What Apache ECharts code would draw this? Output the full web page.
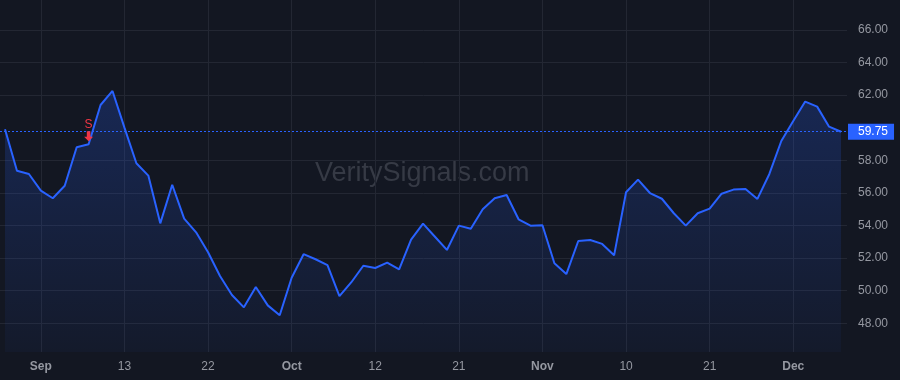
<!DOCTYPE html>
<html>
<head>
<meta charset="utf-8">
<script src="https://cdn.jsdelivr.net/npm/echarts@6/dist/echarts.min.js"></script>
<style>
html,body{margin:0;padding:0;background:#131722;}
#chart{width:900px;height:380px;}
</style>
</head>
<body>
<div id="chart"></div>
<script>
// Trading days (2022)
const dates = [
 '2022-08-29','2022-08-30','2022-08-31',
 '2022-09-01','2022-09-02','2022-09-06','2022-09-07','2022-09-08','2022-09-09','2022-09-12','2022-09-13','2022-09-14','2022-09-15','2022-09-16','2022-09-19','2022-09-20','2022-09-21','2022-09-22','2022-09-23','2022-09-26','2022-09-27','2022-09-28','2022-09-29','2022-09-30',
 '2022-10-03','2022-10-04','2022-10-05','2022-10-06','2022-10-07','2022-10-10','2022-10-11','2022-10-12','2022-10-13','2022-10-14','2022-10-17','2022-10-18','2022-10-19','2022-10-20','2022-10-21','2022-10-24','2022-10-25','2022-10-26','2022-10-27','2022-10-28','2022-10-31',
 '2022-11-01','2022-11-02','2022-11-03','2022-11-04','2022-11-07','2022-11-08','2022-11-09','2022-11-10','2022-11-11','2022-11-14','2022-11-15','2022-11-16','2022-11-17','2022-11-18','2022-11-21','2022-11-22','2022-11-23','2022-11-25','2022-11-28','2022-11-29','2022-11-30',
 '2022-12-01','2022-12-02','2022-12-05','2022-12-06','2022-12-07'
];
const closes = [
 59.90,57.36,57.16,
 56.14,55.67,56.44,58.80,58.98,61.39,62.25,60.00,57.82,57.06,54.13,56.50,54.42,53.58,52.36,50.90,49.74,48.98,50.23,49.10,48.49,
 50.79,52.24,51.93,51.57,49.67,50.52,51.53,51.39,51.72,51.31,53.13,54.11,53.31,52.50,53.99,53.80,54.99,55.67,55.87,54.38,53.99,
 54.01,51.68,51.02,53.05,53.11,52.87,52.17,56.04,56.81,55.99,55.64,54.75,53.99,54.75,55.03,55.95,56.20,56.24,55.63,57.16,59.18,60.41,
 61.60,61.29,60.06,59.75
];
const xTickIndex = [3,10,17,24,31,38,45,52,59,66];
const xTickLabels = ['Sep','13','22','Oct','12','21','Nov','10','21','Dec'];
const monthLabels = ['Sep','Oct','Nov','Dec'];
const yTicks = [48,50,52,54,56,58,62,64,66];
const lastPrice = 59.75;
const signalIndex = 7;
const signalText = 'S';
const watermark = 'VeritySignals.com';

const chart = echarts.init(document.getElementById('chart'), null, {renderer:'canvas'});
const seriesData = closes.map((v,i)=>[i,v]);
const labelMap = {};
xTickIndex.forEach((ix,k)=>{ labelMap[ix] = xTickLabels[k]; });

const gridColor = '#232733';
const textColor = '#9598a1';
const font = '"Liberation Sans", Arial, sans-serif';

chart.setOption({
  backgroundColor:'#131722',
  animation:false,
  grid:{left:0,right:53,top:0,bottom:28},
  graphic:[{
    type:'text', left:315, top:160, z:0,
    style:{text:watermark, fill:'#363a45', font:'27px "Liberation Sans", Arial, sans-serif'}
  }],
  xAxis:{
    type:'value', min:-0.42, max:70.5,
    axisLine:{show:false},
    axisTick:{show:false, customValues:xTickIndex},
    axisLabel:{
      customValues:xTickIndex, margin:9,
      color:textColor, fontSize:12, fontFamily:font,
      formatter:function(v){ const t = labelMap[Math.round(v)] || ''; return monthLabels.indexOf(t)>=0 ? '{b|'+t+'}' : t; },
      rich:{b:{fontWeight:'bold', color:textColor, fontSize:12, fontFamily:font}}
    },
    splitLine:{show:true, lineStyle:{color:gridColor, width:1}}
  },
  yAxis:{
    type:'value', position:'right', min:46.24, max:67.83,
    axisLine:{show:false},
    axisTick:{show:false, customValues:yTicks},
    axisLabel:{customValues:yTicks, margin:11, color:textColor, fontSize:12, fontFamily:font,
      formatter:function(v){return v.toFixed(2);}},
    splitLine:{show:true, lineStyle:{color:gridColor, width:1}}
  },
  series:[{
    type:'line', data:seriesData, showSymbol:false, symbol:'none',
    lineStyle:{color:'#2962ff', width:2},
    areaStyle:{origin:'start', color:new echarts.graphic.LinearGradient(0,0,0,1,[
      {offset:0,color:'rgba(41,98,255,0.32)'},{offset:1,color:'rgba(41,98,255,0.06)'}])},
    z:3,
    markLine:{
      silent:true, symbol:['none','none'],
      lineStyle:{color:'#2962ff', type:[2,2], width:1},
      label:{show:true, position:'end', distance:1, formatter:lastPrice.toFixed(2), color:'#ffffff',
        backgroundColor:'#2962ff', padding:[2,6,2,10], fontSize:12, fontFamily:font},
      data:[{yAxis:lastPrice}]
    },
    markPoint:{
      silent:true,
      data:[{
        coord:[signalIndex, closes[signalIndex]],
        symbol:'path://M3,0 L7,0 L7,6 L10,6 L5,11 L0,6 L3,6 Z',
        symbolSize:[9,10], symbolOffset:[0,-8],
        itemStyle:{color:'#f23645'},
        label:{show:true, position:'top', distance:1, formatter:signalText, color:'#f23645', fontSize:12, fontFamily:font}
      }]
    }
  }]
});
</script>
</body>
</html>
